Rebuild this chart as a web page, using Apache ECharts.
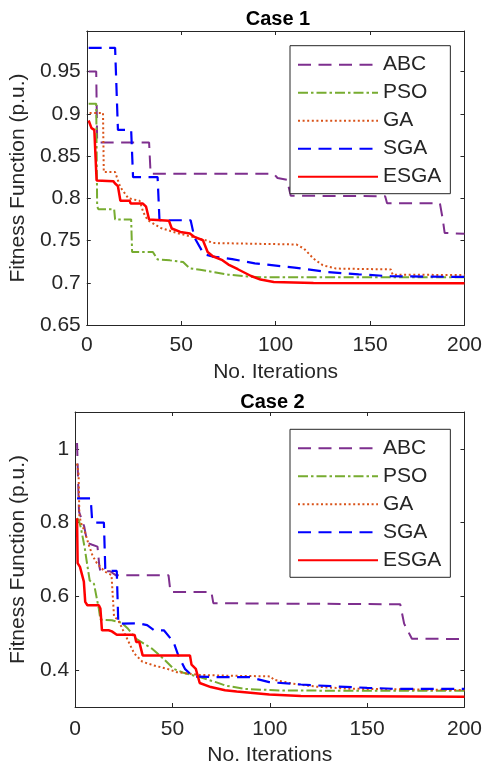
<!DOCTYPE html>
<html>
<head>
<meta charset="utf-8">
<script src="https://cdn.jsdelivr.net/npm/echarts@6/dist/echarts.min.js"></script>
<style>
html, body { margin: 0; padding: 0; background: #ffffff; }
#chart { width: 485px; height: 768px; }
</style>
</head>
<body>
<div id="chart"></div>
<script>
// Convergence curves: [iteration, fitness (p.u.)]
var names = ['ABC', 'PSO', 'GA', 'SGA', 'ESGA'];
var caseTitles = ['Case 1', 'Case 2'];
var xTicks = [0, 50, 100, 150, 200];
var yTicksCase1 = [0.65, 0.7, 0.75, 0.8, 0.85, 0.9, 0.95];
var yTicksCase2 = [0.4, 0.6, 0.8, 1];

// Case 1
var abc1 = [[1,0.95],[5,0.95],[5.5,0.866],[33,0.866],[33.8,0.829],[99,0.829],[101,0.824],[106,0.822],[108,0.803],[158,0.8025],[159,0.794],[187,0.794],[188.5,0.775],[189.5,0.759],[200,0.758]];
var pso1 = [[1,0.912],[5,0.912],[5.5,0.79],[6.2,0.787],[14.5,0.787],[15,0.775],[23.5,0.775],[24,0.7365],[35,0.7365],[37.5,0.7275],[44,0.7265],[51,0.7245],[54.5,0.717],[60,0.7155],[66.5,0.7128],[75,0.7095],[85,0.7075],[93,0.7065],[200,0.7065]];
var ga1 = [[1.5,0.901],[8.6,0.901],[9,0.831],[15,0.831],[17.7,0.8135],[22,0.80],[28,0.797],[30,0.783],[32.3,0.774],[39,0.765],[48,0.7587],[56,0.7543],[63,0.7503],[67,0.747],[111,0.7453],[115,0.7405],[120,0.7287],[125,0.7207],[132,0.7168],[161,0.7158],[162,0.7095],[200,0.7092]];
var sga1 = [[1,0.978],[15,0.978],[16.5,0.881],[23.5,0.881],[24.5,0.825],[37.5,0.825],[38.5,0.774],[55,0.774],[57,0.7535],[62,0.734],[66.5,0.731],[77,0.728],[89,0.723],[110,0.718],[127,0.7128],[144,0.710],[161,0.7077],[200,0.7069]];
var esga1 = [[1,0.892],[2.5,0.883],[4,0.881],[4.8,0.881],[5.2,0.821],[14,0.8203],[15,0.8175],[16.5,0.8143],[17.8,0.797],[22.8,0.797],[23.2,0.7938],[29.7,0.7938],[31.4,0.79],[33,0.7749],[43.5,0.7735],[45,0.7642],[49.5,0.7602],[54.6,0.7583],[57,0.7543],[61.5,0.7503],[64,0.7365],[66.7,0.7314],[71.8,0.7267],[75,0.7215],[80,0.716],[87,0.708],[92,0.7038],[99,0.701],[120,0.6998],[200,0.6995]];

// Case 2
var abc2 = [[1,1.016],[1.3,0.96],[2,0.83],[4.7,0.789],[6.3,0.745],[8.8,0.74],[11.5,0.735],[12.5,0.68],[13,0.668],[18,0.668],[21,0.657],[48,0.657],[49,0.612],[70,0.612],[71,0.5815],[167,0.5785],[169,0.526],[173,0.485],[200,0.4845]];
var pso2 = [[1,0.812],[2,0.805],[3,0.785],[4,0.758],[5,0.73],[5.5,0.711],[7.5,0.643],[9.7,0.634],[12.2,0.566],[13,0.537],[18.9,0.535],[23.9,0.5285],[27.2,0.512],[31.4,0.485],[35.6,0.471],[39.7,0.4575],[45.6,0.43],[50.6,0.4035],[55.6,0.393],[64,0.381],[72.3,0.3674],[77.3,0.358],[87,0.349],[107,0.3445],[200,0.344]];
var ga2 = [[1,0.96],[1.8,0.93],[2.2,0.82],[3,0.80],[5,0.775],[7,0.74],[9,0.71],[11.2,0.69],[15.3,0.667],[18.7,0.658],[19.5,0.654],[20,0.545],[22.2,0.5357],[24.6,0.5085],[27.9,0.4722],[30.4,0.445],[34.6,0.4226],[40.5,0.4126],[47.3,0.4035],[52.3,0.3944],[64,0.387],[77.3,0.385],[100.5,0.383],[102,0.374],[112,0.363],[124,0.355],[140.6,0.3495],[200,0.346]];
var sga2 = [[1,0.866],[8,0.866],[8.7,0.81],[9.5,0.80],[14.8,0.80],[15.5,0.675],[16,0.669],[21.4,0.669],[22.2,0.526],[33,0.5267],[37,0.522],[40.6,0.508],[45.6,0.508],[50.6,0.476],[53,0.44],[56.4,0.4035],[60.6,0.3826],[72,0.381],[89.7,0.381],[99.7,0.3674],[116,0.361],[133,0.356],[150,0.352],[166,0.349],[200,0.349]];
var esga2 = [[1,0.812],[1.3,0.69],[2.5,0.68],[3,0.676],[4.5,0.64],[5.2,0.585],[6.3,0.576],[12.2,0.576],[13,0.567],[13.8,0.508],[17.2,0.508],[18.9,0.505],[21.4,0.496],[28.9,0.496],[30.6,0.495],[31.4,0.476],[33,0.476],[34.7,0.44],[59,0.44],[59.8,0.415],[60.8,0.41],[62,0.4036],[64,0.365],[69.7,0.354],[77,0.3455],[83,0.342],[99.7,0.334],[116,0.3296],[200,0.328]];

var FONT = '"Liberation Sans", Arial, Helvetica, sans-serif';
var AXIS_COLOR = '#262626';

var styles = {
  ABC:  { color: '#7E2F8E', width: 2,   type: [13, 7.5] },
  PSO:  { color: '#77AC30', width: 2,   type: [10, 3, 2.5, 3] },
  GA:   { color: '#D95319', width: 2,   type: [2, 2.6] },
  SGA:  { color: '#0000FF', width: 2.2, type: [13, 7.5] },
  ESGA: { color: '#FF0000', width: 2.5, type: 'solid' }
};

var caseData = [
  [abc1, pso1, ga1, sga1, esga1],
  [abc2, pso2, ga2, sga2, esga2]
];

var grids = [
  { left: 79, top: 31, width: 388, height: 294 },
  { left: 68, top: 412, width: 399, height: 295 }
];
var yRanges = [[0.65, 0.998], [0.3, 1.1]];
var yTickSets = [yTicksCase1, yTicksCase2];
var yNameGaps = [50, 39];
var xLabelMargins = [10, 12];
var xNameGaps = [37, 38];

var xAxes = [], yAxes = [], series = [], titles = [], legends = [];

function tickCfg(vals) {
  return { show: true, inside: true, length: 4, customValues: vals,
           lineStyle: { color: AXIS_COLOR, width: 1 } };
}

for (var g = 0; g < 2; g++) {
  // bottom x axis with labels
  xAxes.push({
    type: 'value', gridIndex: g, position: 'bottom', min: 0, max: 200,
    name: 'No. Iterations', nameLocation: 'middle', nameGap: xNameGaps[g],
    nameTextStyle: { fontFamily: FONT, fontSize: 21, color: AXIS_COLOR },
    axisLine: { show: true, onZero: false, lineStyle: { color: AXIS_COLOR, width: 1 } },
    axisTick: tickCfg(xTicks),
    axisLabel: { show: true, customValues: xTicks, margin: xLabelMargins[g], fontFamily: FONT, fontSize: 21, color: AXIS_COLOR },
    splitLine: { show: false }
  });
  // top x axis: box edge with mirrored ticks
  xAxes.push({
    type: 'value', gridIndex: g, position: 'top', min: 0, max: 200,
    axisLine: { show: true, onZero: false, lineStyle: { color: AXIS_COLOR, width: 1 } },
    axisTick: tickCfg(xTicks),
    axisLabel: { show: false },
    splitLine: { show: false }
  });
  // left y axis with labels
  yAxes.push({
    type: 'value', gridIndex: g, position: 'left', min: yRanges[g][0], max: yRanges[g][1],
    name: 'Fitness Function (p.u.)', nameLocation: 'middle', nameGap: yNameGaps[g],
    nameTextStyle: { fontFamily: FONT, fontSize: 21, color: AXIS_COLOR },
    axisLine: { show: true, onZero: false, lineStyle: { color: AXIS_COLOR, width: 1 } },
    axisTick: tickCfg(yTickSets[g]),
    axisLabel: { show: true, customValues: yTickSets[g], margin: 6, fontFamily: FONT, fontSize: 21, color: AXIS_COLOR },
    splitLine: { show: false }
  });
  // right y axis: box edge with mirrored ticks
  yAxes.push({
    type: 'value', gridIndex: g, position: 'right', min: yRanges[g][0], max: yRanges[g][1],
    axisLine: { show: true, onZero: false, lineStyle: { color: AXIS_COLOR, width: 1 } },
    axisTick: tickCfg(yTickSets[g]),
    axisLabel: { show: false },
    splitLine: { show: false }
  });

  for (var s = 0; s < names.length; s++) {
    var st = styles[names[s]];
    series.push({
      type: 'line', name: names[s],
      xAxisIndex: g * 2, yAxisIndex: g * 2,
      data: caseData[g][s],
      symbol: 'none', showSymbol: false, smooth: false, animation: false, clip: true,
      z: 2 + s,
      lineStyle: { color: st.color, width: st.width, type: st.type },
      itemStyle: { color: st.color }
    });
  }

  titles.push({
    text: caseTitles[g],
    left: grids[g].left + grids[g].width / 2,
    textAlign: 'center',
    top: g === 0 ? 4 : 387,
    textStyle: { fontFamily: FONT, fontSize: 20, fontWeight: 'bold', color: '#000000' }
  });

  legends.push({
    orient: 'vertical',
    left: 290,
    top: g === 0 ? 45.7 : 429.3,
    data: names,
    itemWidth: 80, itemHeight: 14, itemGap: 6,
    padding: [8, 9, 6, 7],
    borderColor: AXIS_COLOR, borderWidth: 1,
    backgroundColor: '#ffffff',
    selectedMode: false,
    itemStyle: { opacity: 0, borderWidth: 0 },
    lineStyle: { width: 2 },
    textStyle: { fontFamily: FONT, fontSize: 21, lineHeight: 22, color: AXIS_COLOR }
  });
}

var chart = echarts.init(document.getElementById('chart'), null, { renderer: 'canvas' });
chart.setOption({
  backgroundColor: '#ffffff',
  animation: false,
  title: titles,
  legend: legends,
  grid: grids.map(function (gr) { return Object.assign({ containLabel: false }, gr); }),
  xAxis: xAxes,
  yAxis: yAxes,
  series: series
});
</script>
</body>
</html>
